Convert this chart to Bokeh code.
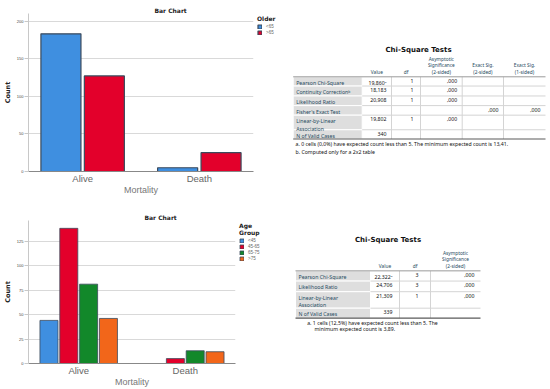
from bokeh.plotting import figure
from bokeh.models import ColumnDataSource, FactorRange, Range1d, Legend, LegendItem
from bokeh.transform import dodge
from bokeh.layouts import row, column
from bokeh.embed import file_html
from bokeh.resources import INLINE
from bokeh.core.properties import value

# ---------------- data ----------------
mortality = ["Alive", "Death"]

older_labels = ["<65", ">65"]
older_lt65 = [183, 5]
older_gt65 = [127, 25]
y1_ticks = [0, 50, 100, 150, 200]

age_labels = ["<45", "45-65", "65-75", ">75"]
age_lt45 = [44, 0]
age_45_65 = [138, 5]
age_65_75 = [81, 13]
age_gt75 = [46, 12]
y2_ticks = [0, 25, 50, 75, 100, 125]

t1_title = "Chi-Square Tests"
t1_headers = ["Value", "df", "Asymptotic\nSignificance\n(2-sided)", "Exact Sig.\n(2-sided)", "Exact Sig.\n(1-sided)"]
t1_rows = ["Pearson Chi-Square", "Continuity Correction\u1d47", "Likelihood Ratio", "Fisher's Exact Test",
           "Linear-by-Linear\nAssociation", "N of Valid Cases"]
t1_value = ["19,860\u00aa", "18,183", "20,908", "", "19,802", "340"]
t1_df = ["1", "1", "1", "", "1", ""]
t1_asym = [",000", ",000", ",000", "", ",000", ""]
t1_exact2 = ["", "", "", ",000", "", ""]
t1_exact1 = ["", "", "", ",000", "", ""]
t1_notes = ["a. 0 cells (0,0%) have expected count less than 5. The minimum expected count is 13,41.",
            "b. Computed only for a 2x2 table"]

t2_title = "Chi-Square Tests"
t2_headers = ["Value", "df", "Asymptotic\nSignificance\n(2-sided)"]
t2_rows = ["Pearson Chi-Square", "Likelihood Ratio", "Linear-by-Linear\nAssociation", "N of Valid Cases"]
t2_value = ["22,322\u00aa", "24,706", "21,309", "339"]
t2_df = ["3", "3", "1", ""]
t2_asym = [",000", ",000", ",000", ""]
t2_notes = ["a. 1 cells (12,5%) have expected count less than 5. The",
            "minimum expected count is 3,89."]

# ---------------- styles / layout ----------------
C_BLUE, C_RED, C_GREEN, C_ORANGE = "#3f8fe0", "#e3002b", "#12882a", "#f2661a"
EDGE = "#3b4a5c"
CH_FONT = "Liberation Sans"
B_FONT = "DejaVu Sans"
T_FONT = "Noto Sans"
T_SIZE = "5.2px"
LBL_COLOR = "#264a60"

ROW1_H, ROW1_TOP, ROW1_BOT = 197, 13, 25
ROW2_H, ROW2_TOP, ROW2_BOT = 192, 23, 25
LEFT_B = 28
TABLE_X0, TABLE_W = 290, 256


def bar_chart(series, colors, offsets, bar_w, rpad, ymax, ticks, width, height,
              mbt, mbb, line_w, title_offset):
    data = dict(mortality=mortality)
    for i, s in enumerate(series):
        data["s%d" % i] = s
    src = ColumnDataSource(data)
    p = figure(width=width, height=height,
               x_range=FactorRange(factors=mortality, range_padding=rpad,
                                   range_padding_units="absolute"),
               y_range=Range1d(0, ymax), output_backend="svg", toolbar_location=None,
               min_border_left=LEFT_B, min_border_right=2, min_border_top=mbt,
               min_border_bottom=mbb)
    for i, (col, off) in enumerate(zip(colors, offsets)):
        p.vbar(x=dodge("mortality", off, range=p.x_range), top="s%d" % i, width=bar_w,
               source=src, fill_color=col, line_color=EDGE, line_width=line_w)

    p.title.text = "Bar Chart"
    p.title.align = "left"
    p.title.offset = title_offset
    p.title.standoff = 0
    p.title.text_font = B_FONT
    p.title.text_font_size = "6px"
    p.title.text_font_style = "bold"
    p.title.text_color = "#222222"

    p.outline_line_color = None
    p.xgrid.visible = False
    p.ygrid.grid_line_color = "#d9d9d9"
    p.ygrid.grid_line_width = 1

    p.yaxis.ticker = ticks
    p.yaxis.axis_label = "Count"
    p.yaxis.axis_label_text_font = B_FONT
    p.yaxis.axis_label_text_font_size = "6.5px"
    p.yaxis.axis_label_text_font_style = "bold"
    p.yaxis.axis_label_text_color = "#222222"
    p.yaxis.axis_label_standoff = 2
    p.yaxis.major_label_text_font = CH_FONT
    p.yaxis.major_label_text_font_size = "4px"
    p.yaxis.major_label_text_color = "#444444"
    p.yaxis.major_label_standoff = 1
    p.yaxis.axis_line_color = "#c8c8c8"
    p.yaxis.major_tick_line_color = "#c8c8c8"
    p.yaxis.major_tick_out = 4
    p.yaxis.major_tick_in = 0
    p.yaxis.minor_tick_line_color = None

    p.xaxis.axis_label = "Mortality"
    p.xaxis.axis_label_text_font = CH_FONT
    p.xaxis.axis_label_text_font_size = "9px"
    p.xaxis.axis_label_text_font_style = "normal"
    p.xaxis.axis_label_text_color = "#777777"
    p.xaxis.axis_label_standoff = -2
    p.xaxis.major_label_text_font = CH_FONT
    p.xaxis.major_label_text_font_size = "9.5px"
    p.xaxis.major_label_text_color = "#666666"
    p.xaxis.major_label_standoff = 1
    p.xaxis.axis_line_color = "#888888"
    p.xaxis.major_tick_line_color = None
    p.xaxis.major_tick_out = 0
    p.xaxis.major_tick_in = 0
    p.xaxis.minor_tick_line_color = None
    return p, src


def legend_panel(src, labels, colors, legend_title, width, height, mbt, mbb, line_w):
    lp = figure(width=width, height=height, title=None, output_backend="svg",
                toolbar_location=None, x_axis_type=None, y_axis_type=None,
                x_range=FactorRange(factors=mortality), y_range=Range1d(0, 1),
                min_border=0, min_border_left=0, min_border_right=0,
                min_border_top=mbt, min_border_bottom=mbb)
    lp.outline_line_color = None
    lp.grid.visible = False
    items = []
    for i, (lab, col) in enumerate(zip(labels, colors)):
        r = lp.vbar(x="mortality", top="s%d" % i, width=0.5, source=src, fill_color=col,
                    line_color=EDGE, line_width=line_w, visible=False)
        items.append(LegendItem(label=lab, renderers=[r], index=0))
    leg = Legend(items=items, location="top_left", title=legend_title,
                 title_text_font=B_FONT, title_text_font_size="6px", title_text_font_style="bold",
                 title_text_color="#222222", title_standoff=2, title_text_line_height=1.0,
                 label_text_font=CH_FONT, label_text_font_size="4.5px", label_text_color="#666666",
                 label_standoff=4, label_height=5, label_width=10, glyph_width=5, glyph_height=5,
                 spacing=1, padding=2, margin=0, border_line_alpha=0, background_fill_alpha=0,
                 inactive_fill_alpha=0)
    lp.add_layout(leg)
    return lp


def chi_table(height, mbt, mbb, title, title_x, title_y, x_edges, row_edges, headers,
              labels, columns, col_pad, notes, note_xs, note_ys):
    # ranges are in the page's pixel positions of this row (y downwards)
    t = figure(width=TABLE_W, height=height, title=None,
               x_range=Range1d(TABLE_X0, TABLE_X0 + TABLE_W),
               y_range=Range1d(height - mbb, mbt), output_backend="svg", toolbar_location=None,
               x_axis_type=None, y_axis_type=None, min_border=0, min_border_left=0,
               min_border_right=0, min_border_top=mbt, min_border_bottom=mbb)
    t.outline_line_color = None
    t.grid.visible = False
    n = len(labels)
    tops = row_edges[:-1]
    bots = row_edges[1:]
    left, right = x_edges[0], x_edges[-1]
    t.quad(left=[left] * n, right=[x_edges[1]] * n, top=tops, bottom=bots,
           fill_color="#dedede", line_color="white", line_width=1)
    inner = row_edges[1:-1]
    t.segment(x0=[x_edges[1]] * len(inner), x1=[right] * len(inner), y0=inner, y1=inner,
              line_color="#d4d4d4", line_width=1)
    vx = x_edges[2:-1]
    t.segment(x0=vx, x1=vx, y0=[row_edges[0]] * len(vx), y1=[row_edges[-1]] * len(vx),
              line_color="#d4d4d4", line_width=1)
    t.segment(x0=[left], x1=[right], y0=[row_edges[0]], y1=[row_edges[0]],
              line_color="#9a9a9a", line_width=1)
    t.segment(x0=[left], x1=[right], y0=[row_edges[-1]], y1=[row_edges[-1]],
              line_color="#5a5a5a", line_width=1.2)
    t.text(x=[title_x], y=[title_y], text=[title], text_font=value(B_FONT), text_font_size="7px",
           text_font_style="bold", text_color="#111111", text_align="center", text_baseline="middle")
    hx = [(x_edges[j + 1] + x_edges[j + 2]) / 2 for j in range(len(headers))]
    t.text(x=hx, y=[row_edges[0] - 2] * len(headers), text=headers, text_font=value(T_FONT),
           text_font_size="4.8px", text_color=LBL_COLOR, text_align="center",
           text_baseline="bottom", text_line_height=1.1)
    ty = [r + 2.0 for r in tops]
    t.text(x=[left + 3] * n, y=ty, text=labels, text_font=value(T_FONT), text_font_size=T_SIZE,
           text_color=LBL_COLOR, text_align="left", text_baseline="top", text_line_height=0.92)
    for j, col in enumerate(columns):
        t.text(x=[x_edges[j + 2] - col_pad[j]] * n, y=ty, text=col, text_font=value(T_FONT),
               text_font_size=T_SIZE, text_color="#111111", text_align="right", text_baseline="top")
    t.text(x=note_xs, y=note_ys, text=notes, text_font=value(T_FONT), text_font_size=T_SIZE,
           text_color="#111111", text_align="left", text_baseline="middle")
    return t


# row 1
chart1, src1 = bar_chart([older_lt65, older_gt65], [C_BLUE, C_RED], [-0.186, 0.186], 0.343,
                         -0.036, 210, y1_ticks, 255, ROW1_H, ROW1_TOP, ROW1_BOT, 1.2, 126)
legend1 = legend_panel(src1, older_labels, [C_BLUE, C_RED], "Older", TABLE_X0 - 255, ROW1_H,
                       ROW1_TOP, ROW1_BOT, 1.2)
table1 = chi_table(ROW1_H, ROW1_TOP, ROW1_BOT, t1_title, 418, 49.5,
                   [292.7, 361.7, 391, 420, 461.7, 503, 545],
                   [76.7, 86, 96, 105.7, 115.3, 130, 139.3], t1_headers, t1_rows,
                   [t1_value, t1_df, t1_asym, t1_exact2, t1_exact1], [5, 7, 5, 5, 5],
                   t1_notes, [295, 295], [144, 152.7])

# row 2 (its y positions are counted from the top of row 2)
R2 = ROW1_H
chart2, src2 = bar_chart([age_lt45, age_45_65, age_65_75, age_gt75],
                         [C_BLUE, C_RED, C_GREEN, C_ORANGE], [-0.279, -0.093, 0.093, 0.279], 0.169,
                         -0.029, 146, y2_ticks, 237, ROW2_H, ROW2_TOP, ROW2_BOT, 0.8, 116)
legend2 = legend_panel(src2, age_labels, [C_BLUE, C_RED, C_GREEN, C_ORANGE], "Age\nGroup",
                       TABLE_X0 - 237, ROW2_H, ROW2_TOP, ROW2_BOT, 0.8)
table2 = chi_table(ROW2_H, ROW2_TOP, ROW2_BOT, t2_title, 387.5, 240 - R2,
                   [295, 370, 399, 430, 480],
                   [270.7 - R2, 281 - R2, 291.7 - R2, 308.3 - R2, 318.3 - R2], t2_headers, t2_rows,
                   [t2_value, t2_df, t2_asym], [7, 12, 6],
                   t2_notes, [306.7, 314], [323.3 - R2, 329.3 - R2])

layout = column(row(chart1, legend1, table1), row(chart2, legend2, table2))
open("out.html", "w").write(file_html(layout, INLINE))
